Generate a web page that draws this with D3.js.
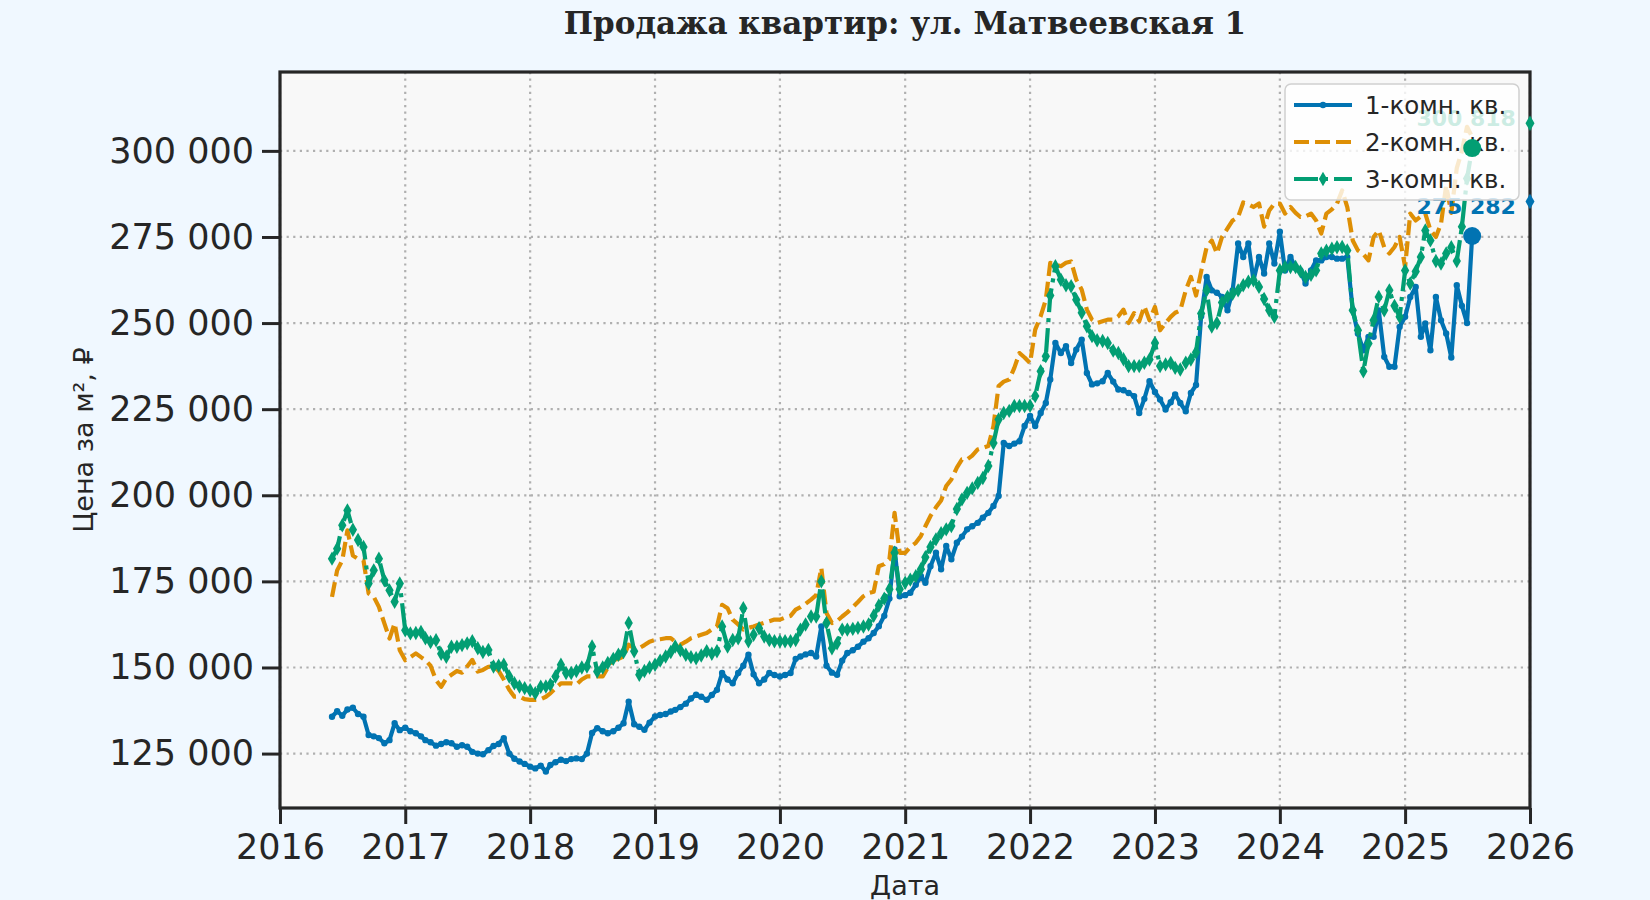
<!DOCTYPE html>
<html>
<head>
<meta charset="utf-8">
<script src="https://cdn.jsdelivr.net/npm/d3@7"></script>
<style>
  body { margin: 0; background: #f0f8ff; }
  svg { display: block; }
</style>
</head>
<body>
<svg id="chart" width="1650" height="900"></svg>
<script>
// semi-monthly observation dates
const dates = [
  "2016-06-01","2016-06-16","2016-07-01","2016-07-16","2016-08-01","2016-08-16","2016-09-01","2016-09-16","2016-10-01","2016-10-16","2016-11-01","2016-11-16","2016-12-01","2016-12-16",
  "2017-01-01","2017-01-16","2017-02-01","2017-02-16","2017-03-01","2017-03-16","2017-04-01","2017-04-16","2017-05-01","2017-05-16","2017-06-01","2017-06-16","2017-07-01","2017-07-16","2017-08-01","2017-08-16","2017-09-01","2017-09-16","2017-10-01","2017-10-16","2017-11-01","2017-11-16","2017-12-01","2017-12-16",
  "2018-01-01","2018-01-16","2018-02-01","2018-02-16","2018-03-01","2018-03-16","2018-04-01","2018-04-16","2018-05-01","2018-05-16","2018-06-01","2018-06-16","2018-07-01","2018-07-16","2018-08-01","2018-08-16","2018-09-01","2018-09-16","2018-10-01","2018-10-16","2018-11-01","2018-11-16","2018-12-01","2018-12-16",
  "2019-01-01","2019-01-16","2019-02-01","2019-02-16","2019-03-01","2019-03-16","2019-04-01","2019-04-16","2019-05-01","2019-05-16","2019-06-01","2019-06-16","2019-07-01","2019-07-16","2019-08-01","2019-08-16","2019-09-01","2019-09-16","2019-10-01","2019-10-16","2019-11-01","2019-11-16","2019-12-01","2019-12-16",
  "2020-01-01","2020-01-16","2020-02-01","2020-02-16","2020-03-01","2020-03-16","2020-04-01","2020-04-16","2020-05-01","2020-05-16","2020-06-01","2020-06-16","2020-07-01","2020-07-16","2020-08-01","2020-08-16","2020-09-01","2020-09-16","2020-10-01","2020-10-16","2020-11-01","2020-11-16","2020-12-01","2020-12-16",
  "2021-01-01","2021-01-16","2021-02-01","2021-02-16","2021-03-01","2021-03-16","2021-04-01","2021-04-16","2021-05-01","2021-05-16","2021-06-01","2021-06-16","2021-07-01","2021-07-16","2021-08-01","2021-08-16","2021-09-01","2021-09-16","2021-10-01","2021-10-16","2021-11-01","2021-11-16","2021-12-01","2021-12-16",
  "2022-01-01","2022-01-16","2022-02-01","2022-02-16","2022-03-01","2022-03-16","2022-04-01","2022-04-16","2022-05-01","2022-05-16","2022-06-01","2022-06-16","2022-07-01","2022-07-16","2022-08-01","2022-08-16","2022-09-01","2022-09-16","2022-10-01","2022-10-16","2022-11-01","2022-11-16","2022-12-01","2022-12-16",
  "2023-01-01","2023-01-16","2023-02-01","2023-02-16","2023-03-01","2023-03-16","2023-04-01","2023-04-16","2023-05-01","2023-05-16","2023-06-01","2023-06-16","2023-07-01","2023-07-16","2023-08-01","2023-08-16","2023-09-01","2023-09-16","2023-10-01","2023-10-16","2023-11-01","2023-11-16","2023-12-01","2023-12-16",
  "2024-01-01","2024-01-16","2024-02-01","2024-02-16","2024-03-01","2024-03-16","2024-04-01","2024-04-16","2024-05-01","2024-05-16","2024-06-01","2024-06-16","2024-07-01","2024-07-16","2024-08-01","2024-08-16","2024-09-01","2024-09-16","2024-10-01","2024-10-16","2024-11-01","2024-11-16","2024-12-01","2024-12-16",
  "2025-01-01","2025-01-16","2025-02-01","2025-02-16","2025-03-01","2025-03-16","2025-04-01","2025-04-16","2025-05-01","2025-05-16","2025-06-01","2025-06-16","2025-07-01","2025-07-16"
];

// price per m2, thousands of rubles
const room1 = [
  135.7,137.3,136.0,137.8,138.3,136.5,135.7,130.4,130.0,129.5,128.0,128.9,133.8,131.8,
  132.5,131.5,130.9,130.0,128.9,128.3,127.3,127.8,128.3,128.0,127.0,127.4,127.0,125.5,125.0,124.8,126.0,127.2,127.8,129.5,125.0,123.5,122.7,122.0,
  121.2,120.7,121.5,119.8,121.7,122.5,123.2,122.8,123.4,123.6,123.4,125.0,131.0,132.4,131.5,130.9,131.5,132.5,133.8,140.1,133.5,132.8,131.9,134.0,
  135.8,136.2,136.5,137.2,137.7,138.5,139.5,141.0,142.1,141.5,140.6,142.0,143.5,148.4,146.5,145.4,148.4,150.5,153.7,148.0,145.4,146.5,148.4,147.8,
  147.4,147.8,148.4,152.5,153.2,153.8,154.2,153.2,161.9,150.5,148.5,147.9,152.0,154.2,155.0,156.0,157.5,158.5,160.0,162.0,165.0,170.0,184.3,170.7,
  171.0,171.7,174.0,176.5,174.6,179.4,183.3,178.5,185.3,181.4,186.2,188.0,190.1,191.0,192.0,193.5,194.9,196.9,199.8,215.2,214.3,215.0,215.7,220.1,
  223.0,220.1,223.9,226.8,233.6,244.2,241.3,243.3,238.4,242.3,245.2,235.5,232.2,232.5,233.1,235.5,233.0,230.7,230.5,229.7,228.8,223.9,228.0,233.1,
  230.0,227.8,224.9,227.0,229.3,226.8,224.4,229.7,232.0,252.0,263.4,259.5,258.8,257.6,253.7,259.5,273.1,269.2,273.1,262.4,269.2,264.4,273.1,267.3,
  276.5,265.3,269.2,266.0,265.3,261.5,265.3,268.2,268.2,269.2,269.2,268.7,268.7,269.2,253.7,247.0,242.1,246.0,246.0,253.7,240.2,237.3,237.3,248.9,
  251.8,257.6,260.5,246.0,249.9,242.1,257.6,250.8,247.0,240.0,261.0,255.0,250.0,275.282
];
const room2 = [
  170.5,178.2,181.1,189.8,182.5,181.5,181.1,171.5,170.5,167.6,162.8,158.4,162.8,155.0,
  152.1,153.0,154.1,153.0,152.1,150.5,146.3,144.4,146.8,147.9,149.0,148.5,150.3,152.2,148.8,149.3,150.2,150.3,149.0,146.5,143.5,141.5,141.6,140.8,
  140.6,140.6,140.8,141.5,142.5,144.0,145.4,145.4,145.4,145.0,146.5,147.4,147.4,147.4,147.4,150.0,152.2,152.5,153.2,156.6,155.6,155.6,156.5,157.5,
  158.0,158.2,158.5,158.5,157.5,156.6,157.5,158.5,159.0,159.5,160.0,161.0,161.9,168.2,167.2,163.9,162.5,161.0,161.5,161.9,162.5,163.0,163.4,163.9,
  163.9,164.5,165.0,166.8,167.5,168.5,169.7,171.0,178.9,165.8,162.9,163.5,164.8,166.0,167.5,169.0,170.7,171.6,172.0,179.4,180.0,181.4,194.9,183.3,
  183.3,185.0,186.2,188.2,191.0,194.0,196.5,198.5,202.7,204.6,208.0,210.4,210.4,211.5,213.3,213.8,214.3,220.1,231.7,233.0,233.6,237.0,241.3,240.0,
  238.4,248.1,252.0,256.8,267.5,267.0,266.5,267.5,267.9,262.6,259.7,253.9,251.0,250.0,250.5,251.0,251.0,252.0,253.9,250.0,252.9,250.5,254.9,250.8,
  254.7,247.9,250.0,251.8,253.0,253.7,259.5,263.4,258.0,265.0,272.0,274.0,270.2,275.0,277.5,279.8,280.8,285.0,284.5,283.7,284.7,278.0,282.7,284.7,
  284.7,281.8,283.7,282.0,280.8,281.0,281.8,279.8,276.0,281.8,283.0,284.7,288.5,283.7,274.0,271.1,270.0,268.2,275.0,276.9,272.0,270.2,272.1,275.0,
  266.3,281.8,279.8,281.0,281.8,277.0,275.0,278.9,290.0,282.0,295.0,300.0,307.0,304.0
];
const room3 = [
  181.6,184.5,191.3,195.6,190.0,187.0,185.0,174.4,178.2,181.6,175.3,172.4,169.1,174.4,
  160.8,159.9,160.0,160.3,158.5,157.4,157.9,154.0,153.1,156.0,156.0,156.5,157.0,157.6,155.6,154.5,155.1,150.3,150.5,150.8,147.4,145.4,144.5,144.0,
  143.4,142.5,144.4,144.5,145.0,147.4,150.8,148.4,148.4,149.0,150.0,150.3,156.1,148.8,150.0,151.3,152.5,153.7,154.5,162.9,154.7,147.9,149.0,150.0,
  150.8,152.0,153.2,154.5,156.1,155.0,153.7,153.0,152.7,153.5,154.7,154.0,154.7,161.9,156.1,158.0,158.5,167.2,157.6,159.5,161.4,159.0,158.0,157.6,
  157.6,157.6,157.6,158.0,161.0,162.5,164.8,164.8,175.0,162.9,155.6,157.0,161.0,161.0,161.2,161.5,161.9,162.5,165.0,168.0,170.0,172.7,183.3,172.7,
  174.6,175.5,176.5,178.5,182.0,185.0,187.2,189.0,190.1,191.1,196.0,198.8,200.7,202.0,203.6,205.0,208.5,215.2,222.0,223.9,224.5,225.9,225.9,225.9,
  226.0,228.8,236.0,240.4,258.0,266.5,262.6,261.0,260.7,256.8,253.0,249.1,246.2,245.0,244.8,244.2,242.0,241.3,239.5,237.5,237.5,237.5,238.5,239.4,
  244.2,237.5,238.0,238.4,237.0,236.5,238.5,239.4,241.5,252.8,259.5,249.0,250.0,256.0,257.6,258.5,259.5,261.0,262.0,262.4,260.5,257.0,253.7,251.8,
  265.3,266.3,266.3,266.3,265.0,263.4,264.0,265.3,270.2,271.0,271.6,272.0,272.1,271.1,253.7,247.9,236.0,244.1,250.8,257.6,253.7,259.5,255.0,251.8,
  265.3,261.5,265.0,269.2,276.9,274.0,268.0,267.3,270.2,272.0,268.0,278.0,292.0,300.818
];

const seriesNames = ["1-комн. кв.", "2-комн. кв.", "3-комн. кв."];
const seriesColors = ["#0173b2", "#de8f05", "#029e73"];
const yTicks = [125000, 150000, 175000, 200000, 225000, 250000, 275000, 300000];
const xTickYears = [2016, 2017, 2018, 2019, 2020, 2021, 2022, 2023, 2024, 2025, 2026];
// small markers drawn on the right border
const edgeValues = [285.3, null, 308.0];

const W = 1650, H = 900;
const margin = { left: 280, right: 120, top: 72, bottom: 92 };
const FONT = "'DejaVu Sans', sans-serif";
const INK = "#262626";

const svg = d3.select("#chart");
svg.append("rect").attr("width", W).attr("height", H).attr("fill", "#f0f8ff");

const parseDate = d3.timeParse("%Y-%m-%d");
const x = d3.scaleTime()
  .domain([new Date(2016, 0, 1), new Date(2026, 0, 1)])
  .range([margin.left, W - margin.right]);
const y = d3.scaleLinear()
  .domain([109200, 322900])
  .range([H - margin.bottom, margin.top]);

const x0 = x.range()[0], x1 = x.range()[1];
const y0 = y.range()[0], y1 = y.range()[1];

svg.append("rect")
  .attr("x", x0).attr("y", y1)
  .attr("width", x1 - x0).attr("height", y0 - y1)
  .attr("fill", "#f8f8f8");

// grid
const grid = svg.append("g").attr("stroke", "#b0b0b0").attr("stroke-width", 2.2)
  .attr("stroke-dasharray", "2.2,4.4");
grid.selectAll(".gx").data(xTickYears).enter().append("line")
  .attr("x1", d => x(new Date(d, 0, 1))).attr("x2", d => x(new Date(d, 0, 1)))
  .attr("y1", y1).attr("y2", y0);
grid.selectAll(".gy").data(yTicks).enter().append("line")
  .attr("x1", x0).attr("x2", x1)
  .attr("y1", d => y(d)).attr("y2", d => y(d));

// series
const allSeries = [room1, room2, room3].map((vals, i) => ({
  name: seriesNames[i],
  color: seriesColors[i],
  points: vals.map((v, j) => ({ date: parseDate(dates[j]), value: v * 1000 }))
}));

const dashes = [null, "15,6", "24,6,4,6"];
const symbols = [d3.symbolCircle, null, d3.symbolDiamond];
const symbolSizes = [32, 0, 60];

svg.append("clipPath").attr("id", "plotclip").append("rect")
  .attr("x", x0).attr("y", y1).attr("width", x1 - x0).attr("height", y0 - y1);

const line = d3.line().x(d => x(d.date)).y(d => y(d.value));
const plot = svg.append("g").attr("clip-path", "url(#plotclip)");

allSeries.forEach((s, i) => {
  plot.append("path")
    .datum(s.points)
    .attr("d", line)
    .attr("fill", "none")
    .attr("stroke", s.color)
    .attr("stroke-width", 4.2)
    .attr("stroke-linejoin", "round")
    .attr("stroke-dasharray", dashes[i]);
  if (symbols[i]) {
    plot.append("g").selectAll("path")
      .data(s.points).enter().append("path")
      .attr("transform", d => `translate(${x(d.date)},${y(d.value)})`)
      .attr("d", d3.symbol().type(symbols[i]).size(symbolSizes[i]))
      .attr("fill", s.color);
  }
});

// axes
const fmt = v => d3.format(",.0f")(v).replace(/,/g, " ");
const yAxis = d3.axisLeft(y).tickValues(yTicks).tickFormat(fmt).tickSize(18).tickPadding(8);
const xAxis = d3.axisBottom(x)
  .tickValues(xTickYears.map(yr => new Date(yr, 0, 1)))
  .tickFormat(d3.timeFormat("%Y")).tickSize(16).tickPadding(10);

const gy = svg.append("g").attr("transform", `translate(${x0},0)`).call(yAxis);
const gx = svg.append("g").attr("transform", `translate(0,${y0})`).call(xAxis);
[gx, gy].forEach(g => {
  g.select(".domain").remove();
  g.selectAll(".tick line").attr("stroke", INK).attr("stroke-width", 3);
  g.selectAll(".tick text").attr("fill", INK).style("font-family", FONT).style("font-size", "35px");
});

// last value labels (under the legend) and border markers
const lastLabels = svg.append("g");
allSeries.forEach((s, i) => {
  if (i === 1) return;
  const last = s.points[s.points.length - 1];
  lastLabels.append("text")
    .attr("x", x(last.date) - 6)
    .attr("y", y(last.value) - 30)
    .attr("text-anchor", "middle")
    .attr("dominant-baseline", "central")
    .attr("fill", s.color)
    .style("font-family", FONT).style("font-size", "22px").style("font-weight", "bold")
    .text(fmt(last.value));
});

// frame
svg.append("rect")
  .attr("x", x0).attr("y", y1)
  .attr("width", x1 - x0).attr("height", y0 - y1)
  .attr("fill", "none").attr("stroke", INK).attr("stroke-width", 3.2);

edgeValues.forEach((v, i) => {
  if (v == null) return;
  svg.append("path")
    .attr("transform", `translate(${x1},${y(v * 1000)})`)
    .attr("d", d3.symbol().type(d3.symbolDiamond).size(70))
    .attr("fill", seriesColors[i]);
});

// legend
const lg = svg.append("g").attr("transform", "translate(1285,84)");
lg.append("rect").attr("width", 234).attr("height", 116).attr("rx", 6)
  .attr("fill", "white").attr("fill-opacity", 0.8)
  .attr("stroke", "#d0d0d0").attr("stroke-width", 1.5);
allSeries.forEach((s, i) => {
  const ry = 21 + i * 37;
  lg.append("line").attr("x1", 9).attr("x2", 67).attr("y1", ry).attr("y2", ry)
    .attr("stroke", s.color).attr("stroke-width", 4.2)
    .attr("stroke-dasharray", dashes[i]);
  if (symbols[i]) {
    lg.append("path").attr("transform", `translate(38,${ry})`)
      .attr("d", d3.symbol().type(symbols[i]).size(symbolSizes[i])).attr("fill", s.color);
  }
  lg.append("text").attr("x", 80).attr("y", ry).attr("dominant-baseline", "central")
    .attr("fill", INK).style("font-family", FONT).style("font-size", "24.5px")
    .text(s.name);
});

// last value dots on top
allSeries.forEach((s, i) => {
  if (i === 1) return;
  const last = s.points[s.points.length - 1];
  svg.append("circle").attr("cx", x(last.date)).attr("cy", y(last.value))
    .attr("r", 9).attr("fill", s.color);
});

// titles
svg.append("text")
  .attr("x", (x0 + x1) / 2).attr("y", 34)
  .attr("text-anchor", "middle")
  .attr("fill", INK)
  .style("font-family", "'DejaVu Serif', serif").style("font-weight", "bold").style("font-size", "31px")
  .text("Продажа квартир: ул. Матвеевская 1");

svg.append("text")
  .attr("x", (x0 + x1) / 2).attr("y", 895)
  .attr("text-anchor", "middle")
  .attr("fill", INK)
  .style("font-family", FONT).style("font-size", "27px")
  .text("Дата");

svg.append("text")
  .attr("transform", `translate(93,${(y0 + y1) / 2}) rotate(-90)`)
  .attr("text-anchor", "middle")
  .attr("fill", INK)
  .style("font-family", FONT).style("font-size", "27px")
  .text("Цена за м², ₽");
</script>
</body>
</html>
